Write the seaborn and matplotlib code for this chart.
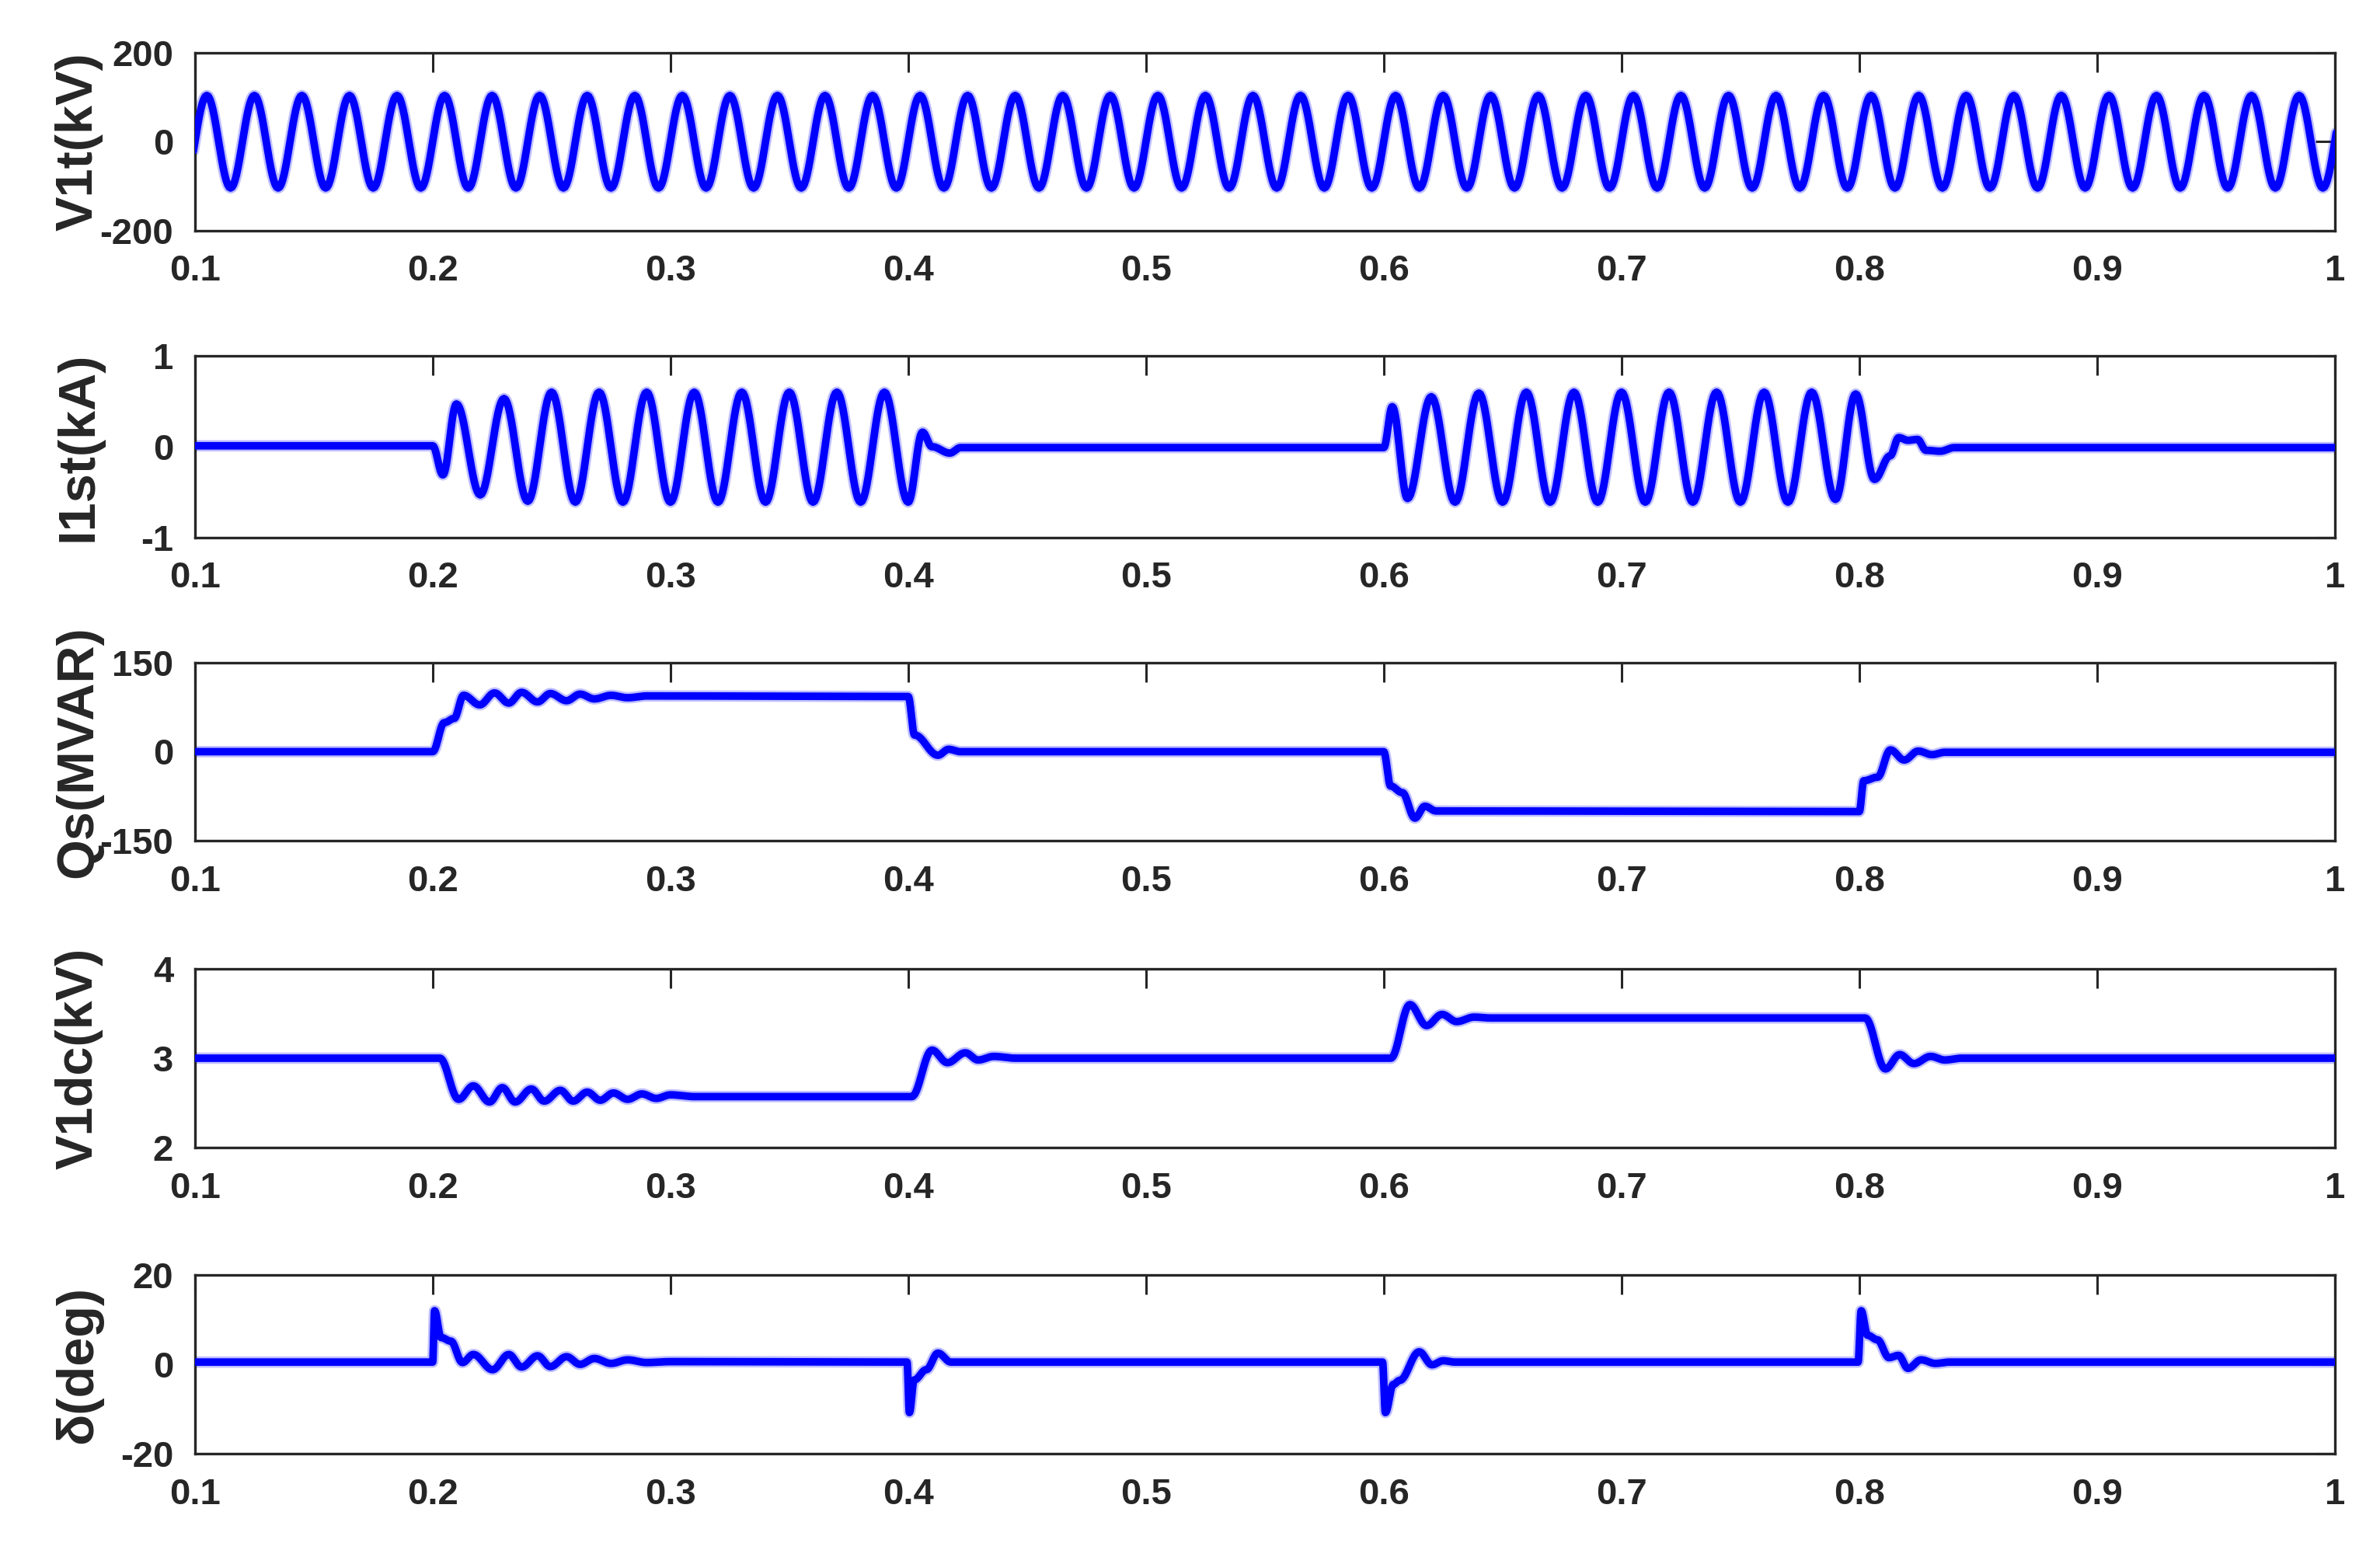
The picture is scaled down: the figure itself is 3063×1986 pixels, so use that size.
import numpy as np
import pandas as pd
import matplotlib
matplotlib.use("Agg")
import matplotlib.pyplot as plt
import seaborn as sns

# ---------------- data ----------------
T_MIN, T_MAX = 0.1, 1.0
X_TICKS = [0.1, 0.2, 0.3, 0.4, 0.5, 0.6, 0.7, 0.8, 0.9, 1.0]
X_TICK_LABELS = ["0.1", "0.2", "0.3", "0.4", "0.5", "0.6", "0.7", "0.8", "0.9", "1"]

# Panel 1 - V1t (kV): extrema of the grid voltage, one every half period
V1T_T = [round(0.095 + 0.01 * k, 3) for k in range(92)]
V1T_V = [-104, 104] * 46

# Panel 2 - I1st (kA): key points (extrema / corners)
I1_T = [0.100, 0.200, 0.2043, 0.210, 0.220, 0.230, 0.240, 0.250, 0.260, 0.270,
        0.280, 0.290, 0.300, 0.310, 0.320, 0.330, 0.340, 0.350, 0.360, 0.370,
        0.380, 0.390, 0.400, 0.406, 0.410, 0.4175, 0.422, 0.600, 0.6036, 0.610,
        0.620, 0.630, 0.640, 0.650, 0.660, 0.670, 0.680, 0.690, 0.700, 0.710,
        0.720, 0.730, 0.740, 0.750, 0.760, 0.770, 0.780, 0.790, 0.7985, 0.8064,
        0.813, 0.8166, 0.8205, 0.8245, 0.8281, 0.834, 0.840, 1.000]
I1_V = [0.01, 0.01, -0.31, 0.47, -0.53, 0.53, -0.60, 0.60, -0.61, 0.60,
        -0.61, 0.60, -0.61, 0.60, -0.61, 0.60, -0.61, 0.60, -0.61, 0.60,
        -0.61, 0.60, -0.61, 0.16, 0.00, -0.07, -0.01, -0.01, 0.44, -0.57,
        0.55, -0.61, 0.59, -0.61, 0.60, -0.61, 0.60, -0.61, 0.60, -0.61,
        0.60, -0.61, 0.60, -0.61, 0.60, -0.61, 0.60, -0.58, 0.58, -0.36,
        -0.10, 0.10, 0.07, 0.08, -0.04, -0.05, -0.01, -0.01]

# Panel 3 - Qs (MVAR)
QS_T = [0.100, 0.200, 0.2049, 0.209, 0.213, 0.2198, 0.226, 0.232, 0.2374, 0.2441,
        0.2495, 0.2563, 0.262, 0.268, 0.275, 0.282, 0.290, 0.400, 0.4027, 0.4125,
        0.417, 0.422, 0.600, 0.6029, 0.6078, 0.6131, 0.6173, 0.622, 0.800, 0.8019,
        0.8077, 0.8131, 0.8189, 0.8248, 0.8306, 0.836, 1.000]
QS_V = [0, 0, 49, 56, 95, 79, 99, 82, 100, 84,
        98, 86, 97, 89, 95, 91, 94, 93, 28, -6,
        4, 0, 0, -58, -69, -112, -92, -100, -101, -49,
        -43, 3, -14, 1, -5, -1, -1]

# Panel 4 - V1dc (kV)
VDC_T = [0.100, 0.203, 0.2109, 0.2171, 0.2239, 0.2293, 0.2347, 0.2415, 0.2469, 0.2537,
         0.2591, 0.2650, 0.2705, 0.276, 0.282, 0.288, 0.294, 0.300, 0.310, 0.4015,
         0.4100, 0.4165, 0.424, 0.4294, 0.436, 0.445, 0.603, 0.611, 0.618, 0.6245,
         0.6307, 0.638, 0.645, 0.8025, 0.811, 0.817, 0.823, 0.830, 0.836, 0.843,
         1.000]
VDC_V = [3.00, 3.00, 2.54, 2.69, 2.51, 2.67, 2.51, 2.655, 2.52, 2.64,
         2.52, 2.62, 2.53, 2.61, 2.54, 2.60, 2.55, 2.59, 2.57, 2.57,
         3.09, 2.95, 3.06, 2.98, 3.02, 3.00, 3.00, 3.60, 3.365, 3.49,
         3.41, 3.46, 3.45, 3.45, 2.88, 3.04, 2.94, 3.02, 2.98, 3.00,
         3.00]

# Panel 5 - delta (deg)
DEL_T = [0.100, 0.200, 0.2008, 0.2035, 0.2076, 0.2125, 0.2171, 0.2252, 0.232, 0.2374,
         0.2441, 0.2495, 0.2563, 0.262, 0.268, 0.275, 0.282, 0.290, 0.300, 0.3995,
         0.4005, 0.4025, 0.4076, 0.4125, 0.418, 0.5995, 0.6007, 0.604, 0.6067, 0.6149,
         0.6203, 0.625, 0.630, 0.7995, 0.8008, 0.8035, 0.8076, 0.8125, 0.8165, 0.8205,
         0.826, 0.832, 0.838, 1.000]
DEL_V = [0.5, 0.5, 12.0, 6.0, 5.2, 0.4, 2.2, -1.2, 2.2, -0.6,
         1.9, -0.5, 1.7, 0.0, 1.3, 0.2, 1.0, 0.4, 0.6, 0.5,
         -10.8, -3.5, -1.2, 2.5, 0.5, 0.5, -10.8, -4.5, -3.6, 2.8,
         -0.1, 0.8, 0.5, 0.5, 12.0, 6.5, 5.5, 1.5, 2.0, -0.9,
         1.0, 0.2, 0.5, 0.5]

PANELS = [
    ("V1t(kV)", V1T_T, V1T_V, (-200, 200), [-200, 0, 200], ["-200", "0", "200"]),
    ("I1st(kA)", I1_T, I1_V, (-1, 1), [-1, 0, 1], ["-1", "0", "1"]),
    ("Qs(MVAR)", QS_T, QS_V, (-150, 150), [-150, 0, 150], ["-150", "0", "150"]),
    ("V1dc(kV)", VDC_T, VDC_V, (2, 4), [2, 3, 4], ["2", "3", "4"]),
    ("δ(deg)", DEL_T, DEL_V, (-20, 20), [-20, 0, 20], ["-20", "0", "20"]),
]


def eased(times, values, n=16):
    """Join key points with half-cosine segments (smooth waveform shape)."""
    t = np.asarray(times, float)
    v = np.asarray(values, float)
    lin = np.linspace(0.0, 1.0, n, endpoint=False)
    shape = (1 - np.cos(np.pi * lin)) / 2
    xs = (t[:-1, None] + (t[1:] - t[:-1])[:, None] * lin[None, :]).ravel()
    ys = (v[:-1, None] + (v[1:] - v[:-1])[:, None] * shape[None, :]).ravel()
    return np.append(xs, t[-1]), np.append(ys, v[-1])


# ---------------- style ----------------
sns.set_theme(style="white")
plt.rcParams["font.family"] = ["Liberation Sans", "DejaVu Sans"]
plt.rcParams["font.weight"] = "bold"
INK = "#262626"
BLUE = "#0000FF"

fig = plt.figure(figsize=(30.63, 19.86), dpi=100)
fig.patch.set_facecolor("white")

LEFT, WIDTH = 0.0819, 0.8991
BOXES = [(0.8505, 0.1153), (0.6516, 0.1178), (0.4552, 0.1153),
         (0.2563, 0.1158), (0.0579, 0.1158)]

for (label, tt, vv, ylim, yticks, yticklabels), (bottom, height) in zip(PANELS, BOXES):
    ax = fig.add_axes([LEFT, bottom, WIDTH, height])
    x, y = eased(tt, vv)
    df = pd.DataFrame({"t": x, "v": y})
    sns.lineplot(data=df, x="t", y="v", ax=ax, color=BLUE, lw=10.5, alpha=0.25,
                 estimator=None, sort=False, zorder=2)
    sns.lineplot(data=df, x="t", y="v", ax=ax, color=BLUE, lw=7.0,
                 estimator=None, sort=False, zorder=3)
    ax.set_xlim(T_MIN, T_MAX)
    ax.set_ylim(*ylim)
    ax.set_xticks(X_TICKS)
    ax.set_xticklabels(X_TICK_LABELS)
    ax.set_yticks(yticks)
    ax.set_yticklabels(yticklabels)
    ax.set_xlabel("")
    ax.set_ylabel(label, fontsize=48, fontweight="bold", color=INK)
    ax.yaxis.set_label_coords(-0.043, 0.5)
    ax.tick_params(axis="both", which="major", direction="in", length=18, width=2.2,
                   color=INK, labelcolor=INK, labelsize=34, top=True, right=True)
    ax.tick_params(axis="x", pad=22)
    ax.tick_params(axis="y", pad=20)
    for lab in ax.get_xticklabels() + ax.get_yticklabels():
        lab.set_fontweight("bold")
    for sp in ax.spines.values():
        sp.set_visible(True)
        sp.set_color(INK)
        sp.set_linewidth(2.4)
    ax.set_facecolor("white")

fig.savefig("out.png", dpi=100, facecolor="white")
